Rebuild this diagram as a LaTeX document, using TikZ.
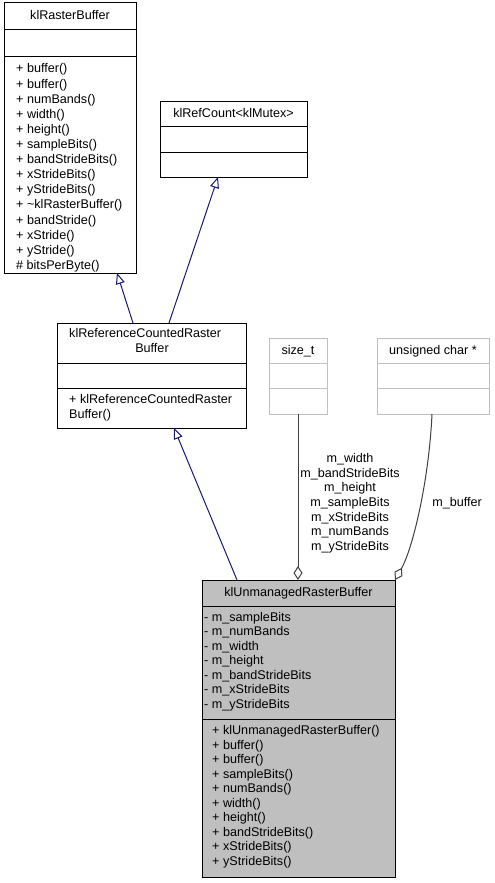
\documentclass[tikz,border=0pt]{standalone}
\usepackage{fontspec}
\setmainfont{Liberation Sans}
\usetikzlibrary{arrows.meta,calc}
\definecolor{navyedge}{HTML}{191970}
\definecolor{aggline}{HTML}{404040}
\definecolor{graybox}{HTML}{BFBFBF}
\begin{document}
\begin{tikzpicture}[x=1pt,y=-1pt,
  cls/.style={draw=black, line width=1pt, rectangle, anchor=north west, inner sep=0pt, outer sep=0pt},
  gcls/.style={cls, draw=graybox},
  sepline/.style={draw=black, line width=1pt},
  gsepline/.style={draw=graybox, line width=1pt},
  txt/.style={inner sep=0pt, font=\fontsize{12.6}{14.6}\selectfont, text height=9.5pt, text depth=2.5pt},
  inh/.style={draw=navyedge, line width=1pt, -{Triangle[fill=white, length=11pt, width=9pt]}},
  agg/.style={draw=aggline, line width=1pt, {Diamond[fill=white, length=14pt, width=9pt]}-}
]
\path[use as bounding box, fill=white] (0,0) rectangle (495,883);

% ---- boxes
\node[cls, minimum width=132pt, minimum height=270pt] (krb) at (4,3) {};
\node[cls, minimum width=147pt, minimum height=76pt] (krc) at (160,101) {};
\node[cls, minimum width=189pt, minimum height=105pt] (rcrb) at (57,323) {};
\node[gcls, minimum width=58pt, minimum height=76pt] (szt) at (269,338) {};
\node[gcls, minimum width=112pt, minimum height=76pt] (uch) at (377,338) {};
\node[cls, fill=graybox, minimum width=193pt, minimum height=297pt] (urb) at (202,580) {};

% ---- compartment separators
\foreach \b/\a/\c in {krb/27/54, krc/25/51, rcrb/40/65, urb/26/139}{
  \draw[sepline] ($(\b.north west)+(0,\a)$) -- ($(\b.north east)+(0,\a)$);
  \draw[sepline] ($(\b.north west)+(0,\c)$) -- ($(\b.north east)+(0,\c)$);
}
\foreach \b in {szt, uch}{
  \draw[gsepline] ($(\b.north west)+(0,25)$) -- ($(\b.north east)+(0,25)$);
  \draw[gsepline] ($(\b.north west)+(0,50)$) -- ($(\b.north east)+(0,50)$);
}

% ---- titles
\node[txt] (krbt) at (70,16.5) {klRasterBuffer};
\node[txt] (krct) at (233.5,113.5) {klRefCount<klMutex>};
\node[txt, anchor=west] (rcrbt1) at (69,334) {klReferenceCountedRaster};
\node[txt] (rcrbt2) at (152,349) {Buffer};
\node[txt] (sztt) at (298,351) {size\_t};
\node[txt] (ucht) at (433,351) {unsigned char *};
\node[txt] (urbt) at (298.5,593) {klUnmanagedRasterBuffer};

% ---- members
\foreach \t [count=\i] in {+ buffer(), + buffer(), + numBands(), + width(), + height(),
  + sampleBits(), + bandStrideBits(), + xStrideBits(), + yStrideBits(),
  + \textasciitilde klRasterBuffer(), + bandStride(), + xStride(), + yStride(), \# bitsPerByte()}
  \node[txt, anchor=west] (krbm\i) at (16,{69.5+15.1*(\i-1)}) {\t};

\node[txt, anchor=west] (rcrbm1) at (69,400) {+ klReferenceCountedRaster};
\node[txt, anchor=west] (rcrbm2) at (69,415) {Buffer()};

\foreach \t [count=\i] in {- m\_sampleBits, - m\_numBands, - m\_width, - m\_height,
  - m\_bandStrideBits, - m\_xStrideBits, - m\_yStrideBits}
  \node[txt, anchor=west] (urba\i) at (204,{617.7+14.55*(\i-1)}) {\t};

\foreach \t [count=\i] in {+ klUnmanagedRasterBuffer(), + buffer(), + buffer(), + sampleBits(),
  + numBands(), + width(), + height(), + bandStrideBits(), + xStrideBits(), + yStrideBits()}
  \node[txt, anchor=west] (urbm\i) at (212,{731+14.5*(\i-1)}) {\t};

% ---- edges
\draw[inh] ($(rcrb.north west)+(76,0)$) -- ($(krb.south west)+(113,0)$);
\draw[inh] ($(rcrb.north west)+(112,0)$) -- ($(krc.south west)+(58,0)$);
\draw[inh] ($(urb.north west)+(35,0)$) -- ($(rcrb.south west)+(117,0)$);
\draw[agg] (urb.north -| szt.south) -- (szt.south);
\draw[agg] (urb.north east) .. controls +(18,-32) and +(-3,66) .. ($(uch.south west)+(55,0)$);

% ---- edge labels
\foreach \t [count=\i] in {m\_width, m\_bandStrideBits, m\_height, m\_sampleBits,
  m\_xStrideBits, m\_numBands, m\_yStrideBits}
  \node[txt] (lbl\i) at (350,{459+14.67*(\i-1)}) {\t};
\node[txt] (lblbuf) at (457,503) {m\_buffer};
\end{tikzpicture}
\end{document}
